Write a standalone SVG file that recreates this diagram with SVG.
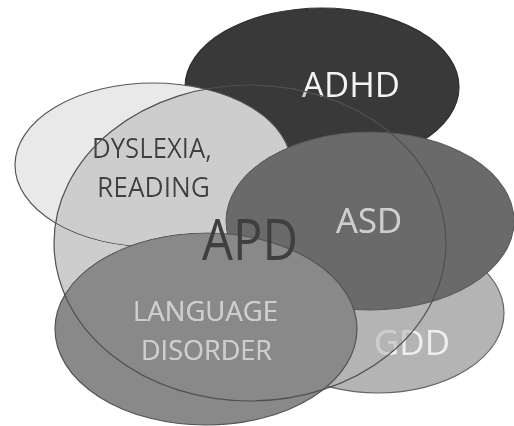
<svg xmlns="http://www.w3.org/2000/svg" width="514" height="426" viewBox="0 0 514 426">
  <style>
    text { font-family: "Open Sans", "Noto Sans", "Liberation Sans", sans-serif; text-anchor: middle; }
    .edge { stroke-width: 1.2; }
    .apd-fill { fill: #cdcdcd; stroke: none; mix-blend-mode: darken; }
    .apd-edge { fill: none; stroke: #505050; stroke-width: 1.2; }
  </style>
  <rect x="0" y="0" width="514" height="426" fill="#ffffff"/>

  <g id="adhd">
    <ellipse cx="322" cy="87" rx="137" ry="79" fill="#393939" stroke="#2f2f2f" class="edge"/>
    <text x="351" y="97" font-size="35" textLength="98" lengthAdjust="spacingAndGlyphs" fill="#f4f4f4">ADHD</text>
  </g>

  <g id="dyslexia">
    <ellipse cx="153" cy="165" rx="138" ry="82" fill="#e9e9e9" stroke="#585858" class="edge"/>
    <text x="152" y="158" font-size="28" textLength="120" lengthAdjust="spacingAndGlyphs" fill="#404040">DYSLEXIA,</text>
    <text x="153.5" y="197" font-size="28" textLength="113" lengthAdjust="spacingAndGlyphs" fill="#404040">READING</text>
  </g>

  <g id="gdd">
    <ellipse cx="378" cy="313" rx="126" ry="80" fill="#b4b4b4" stroke="#666666" class="edge"/>
    <text x="412" y="355" font-size="35" textLength="76" lengthAdjust="spacingAndGlyphs" fill="#eeeeee">GDD</text>
  </g>

  <g id="asd">
    <ellipse cx="370" cy="221" rx="144" ry="89" fill="#6a6a6a" stroke="#5a5a5a" class="edge"/>
    <text x="369" y="233" font-size="35" textLength="66" lengthAdjust="spacingAndGlyphs" fill="#e4e4e4">ASD</text>
  </g>

  <g id="language-disorder">
    <ellipse cx="206" cy="329" rx="151" ry="96" fill="#898989" stroke="#555555" class="edge"/>
    <text x="205.5" y="321" font-size="28" textLength="145" lengthAdjust="spacingAndGlyphs" fill="#e2e2e2">LANGUAGE</text>
    <text x="206.5" y="360" font-size="28" textLength="131" lengthAdjust="spacingAndGlyphs" fill="#e2e2e2">DISORDER</text>
  </g>

  <g id="apd">
    <ellipse cx="250" cy="243" rx="196" ry="158" class="apd-fill"/>
    <ellipse cx="250" cy="243" rx="196" ry="158" class="apd-edge"/>
    <text x="250" y="260" font-size="56" textLength="96" lengthAdjust="spacingAndGlyphs" fill="#3f3f3f">APD</text>
  </g>

  <g id="connectors"/>
</svg>
